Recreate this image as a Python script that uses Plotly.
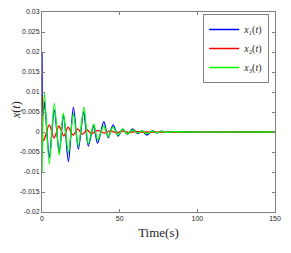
import plotly.graph_objects as go

# x1(t) blue
t1 = [0, 0.6, 1.6, 4.7, 7.9, 11.1, 13.9, 17.0, 20.2, 23.4, 26.8, 29.8, 33.2, 35.8, 39.8, 42.6,
      45.8, 49.0, 52.0, 55.0, 58.4, 61.5, 64.5, 67.4, 71.0, 74.0, 77.0, 80.0, 85.0, 90.0, 150.0]
x1 = [0.02, 0.004, 0.0076, -0.0063, 0.0055, -0.0049, 0.0043, -0.0074, 0.0062, -0.0043, 0.005,
      -0.0035, 0.0015, -0.0028, 0.0026, -0.0014, 0.0018, -0.001, 0.0007, -0.0006, 0.0008, -0.0004,
      0.0003, -0.0008, 0.0003, -0.0002, 0.0002, -0.0001, 0.0001, 0.0, 0.0]

# x2(t) red
t2 = [0, 1.0, 4.7, 7.8, 10.9, 14.0, 16.8, 20.0, 23.0, 26.0, 29.0, 32.0, 36.0, 40.0, 44.0, 48.0,
      52.0, 56.0, 60.0, 65.0, 150.0]
x2 = [0.009, -0.0022, 0.0018, -0.0015, 0.0015, -0.001, 0.0012, -0.0008, 0.0008, -0.0006, 0.0005,
      -0.0004, 0.0004, -0.0003, 0.0003, -0.0002, 0.0002, -0.0001, 0.0001, 0.0, 0.0]

# x3(t) green
t3 = [0, 1.5, 4.7, 7.9, 11.1, 13.7, 17.0, 20.2, 23.4, 27.0, 29.8, 33.3, 35.8, 39.8, 42.6, 45.8,
      49.0, 52.0, 55.0, 58.4, 61.5, 64.5, 67.4, 71.0, 74.0, 77.0, 80.0, 85.0, 90.0, 150.0]
x3 = [-0.01, 0.0098, -0.008, 0.0072, -0.0058, 0.0047, -0.0052, 0.0045, -0.0035, 0.0062, -0.003,
      0.002, -0.002, 0.0015, -0.0012, 0.0012, -0.0008, 0.0008, -0.0005, 0.0005, -0.0003, 0.0003,
      -0.0004, 0.0002, -0.0002, 0.0002, -0.0001, 0.0001, 0.0, 0.0]

ytick_vals = [0.03, 0.025, 0.02, 0.015, 0.01, 0.005, 0, -0.005, -0.01, -0.015, -0.02]
ytick_text = ["0.03", "0.025", "0.02", "0.015", "0.01", "0.005", "0", "-0.005", "-0.01", "-0.015", "-0.02"]
xtick_vals = [0, 50, 100, 150]
xtick_text = ["0", "50", "100", "150"]

series = [
    (t1, x1, "#0000ff", "<i>x</i>₁(<i>t</i>)"),
    (t2, x2, "#ff0000", "<i>x</i>₂(<i>t</i>)"),
    (t3, x3, "#00ff00", "<i>x</i>₃(<i>t</i>)"),
]

fig = go.Figure()
for t, v, c, name in series:
    fig.add_trace(go.Scatter(x=t, y=v, mode="lines", name=name,
                             line=dict(color=c, width=1.3, shape="spline", smoothing=0.8)))

axis_common = dict(showgrid=False, zeroline=False, showline=True, linecolor="#808080",
                   linewidth=1, mirror="ticks", ticks="inside", ticklen=3, tickcolor="#808080",
                   automargin=False,
                   tickfont=dict(family="Liberation Sans, Arial", size=7, color="#262626"))

serif = "Liberation Serif, Times New Roman, serif"

# page body has an 8px margin, so the figure is offset by 8px right and down
L, R, T, B = 34, 24, 4, 49
W, H = 291, 253
plot_w = W - L - R

fig.update_layout(
    width=W, height=H,
    margin=dict(l=L, r=R, t=T, b=B),
    paper_bgcolor="white", plot_bgcolor="white",
    showlegend=True,
    legend=dict(x=0.975, y=0.99, xanchor="right", yanchor="top", bgcolor="white",
                bordercolor="#808080", borderwidth=1,
                font=dict(family=serif, size=10, color="#262626"),
                tracegroupgap=0, itemwidth=30),
    xaxis=dict(range=[0, 150], tickvals=xtick_vals, ticktext=xtick_text,
               title=dict(text="Time(s)", font=dict(family=serif, size=13, color="#262626"),
                          standoff=6),
               **axis_common),
    yaxis=dict(range=[-0.02, 0.03], tickvals=ytick_vals, ticktext=ytick_text,
               **axis_common),
    annotations=[dict(text="<i>x</i>(<i>t</i>)", xref="paper", yref="paper",
                      x=-(L - 8) / plot_w, y=0.51, xanchor="center", yanchor="middle",
                      textangle=-90, showarrow=False,
                      font=dict(family=serif, size=12, color="#262626"))],
)

fig.write_html("out.html")
